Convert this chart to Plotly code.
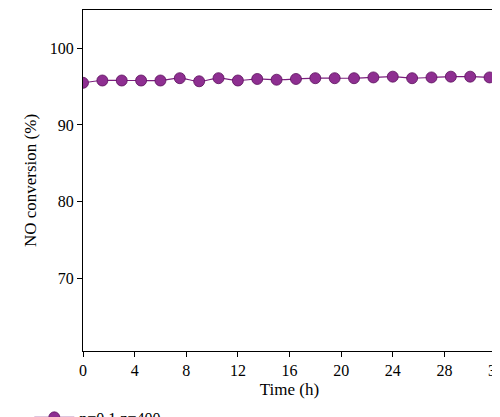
import plotly.graph_objects as go

time_h = [0, 1.5, 3, 4.5, 6, 7.5, 9, 10.5, 12, 13.5, 15, 16.5, 18, 19.5, 21, 22.5, 24, 25.5, 27, 28.5, 30, 31.5]
no_conv = [95.5, 95.8, 95.8, 95.8, 95.8, 96.1, 95.7, 96.1, 95.8, 96.0, 95.9, 96.0, 96.1, 96.1, 96.1, 96.2, 96.3, 96.1, 96.2, 96.3, 96.3, 96.2]
x_ticks = [0, 4, 8, 12, 16, 20, 24, 28, 32]
y_ticks = [70, 80, 90, 100]

fig = go.Figure()
fig.add_trace(go.Scatter(
    x=time_h, y=no_conv, mode='lines+markers', name='n=0.1,z=400',
    line=dict(color='#7b1f7e', width=1.2, shape='spline'),
    marker=dict(size=11, color='#8e2f91', line=dict(color='#5a0f5c', width=0.8))
))

axis_style = dict(showline=True, linecolor='black', linewidth=1, mirror=True,
                  ticks='outside', ticklen=5, tickcolor='black', showgrid=False,
                  zeroline=False, automargin=False, tickfont=dict(size=16, color='black'))
fig.update_xaxes(range=[0, 32], tickvals=x_ticks, title=dict(text='Time (h)', font=dict(size=17), standoff=4), **axis_style)
fig.update_yaxes(range=[60.5, 105], tickvals=y_ticks, title=dict(text='NO conversion (%)', font=dict(size=17), standoff=8), **axis_style)

fig.update_layout(
    width=500, height=417,
    margin=dict(l=75, r=12, t=2, b=74, autoexpand=False),
    plot_bgcolor='white', paper_bgcolor='white',
    font=dict(family='Liberation Serif', color='black'),
    showlegend=True,
    legend=dict(x=-0.13, y=-0.145, xanchor='left', yanchor='top', font=dict(size=16),
                bgcolor='rgba(0,0,0,0)', itemwidth=40)
)
fig.write_html("out.html")
